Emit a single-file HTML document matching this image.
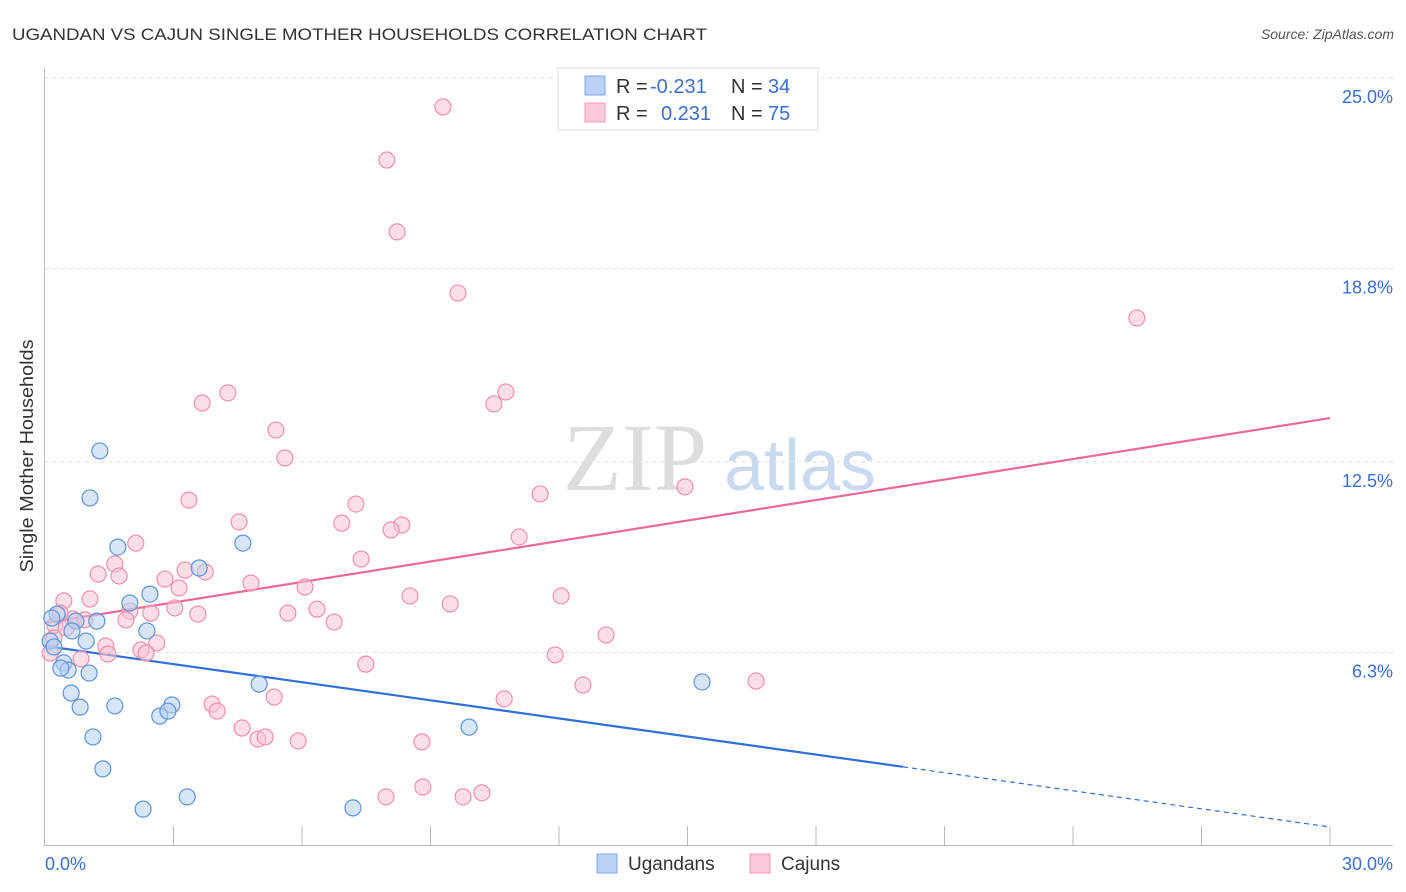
<!DOCTYPE html>
<html><head><meta charset="utf-8"><style>
body{margin:0;background:#fff;font-family:"Liberation Sans",sans-serif;}
svg{display:block}
</style></head><body>
<svg id="chart" width="1406" height="892" xmlns="http://www.w3.org/2000/svg">
<text x="12" y="40" font-size="17" fill="#333" textLength="695" lengthAdjust="spacingAndGlyphs">UGANDAN VS CAJUN SINGLE MOTHER HOUSEHOLDS CORRELATION CHART</text>
<text x="1394" y="39" font-size="14" fill="#555" font-style="italic" text-anchor="end">Source: ZipAtlas.com</text>
<text x="33" y="456" font-size="18" fill="#333" text-anchor="middle" textLength="233" lengthAdjust="spacingAndGlyphs" transform="rotate(-90 33 456)">Single Mother Households</text>
<g><text x="635" y="490" font-size="96" font-family="Liberation Serif,serif" fill="#ddd" text-anchor="middle">ZIP</text><text x="800" y="490" font-size="72" fill="#c9daf0" text-anchor="middle">atlas</text></g>
<g id="grid"></g><g id="axes"></g><g id="lines"></g><g id="pts"></g>
<g>
<rect x="558" y="68" width="260" height="62" fill="#fff" stroke="#ddd"/>
<rect x="585" y="76" width="20" height="19" fill="#b8d1f5" stroke="#7fa8e8"/>
<rect x="585" y="103" width="20" height="19" fill="#fcc9d8" stroke="#f09bb5"/>
<text x="616" y="93" font-size="20" fill="#333">R =</text><text x="650" y="93" font-size="20" fill="#3a6fd0">-0.231</text>
<text x="731" y="93" font-size="20" fill="#333">N =</text><text x="768" y="93" font-size="20" fill="#3a6fd0">34</text>
<text x="616" y="120" font-size="20" fill="#333">R =</text><text x="661" y="120" font-size="20" fill="#3a6fd0">0.231</text>
<text x="731" y="120" font-size="20" fill="#333">N =</text><text x="768" y="120" font-size="20" fill="#3a6fd0">75</text>
</g>
<g>
<rect x="597" y="854" width="20" height="19" fill="#b8d1f5" stroke="#7fa8e8"/>
<text x="628" y="870" font-size="19" fill="#333">Ugandans</text>
<rect x="750" y="854" width="20" height="19" fill="#fcc9d8" stroke="#f09bb5"/>
<text x="781" y="870" font-size="19" fill="#333">Cajuns</text>
</g>
</svg>
<script>
const yTicks=[25.0,18.8,12.5,6.3];
const yTickLabels=["25.0%","18.8%","12.5%","6.3%"];
const xTickCount=[0,3,6,9,12,15,18,21,24,27,30];
const ugX=[1.28,1.05,1.70,4.62,2.45,1.98,3.60,0.28,0.16,1.21,0.72,0.63,2.38,0.96,0.12,0.21,0.44,0.54,1.03,0.37,0.61,0.82,1.63,2.96,2.68,2.87,5.00,1.12,1.35,3.32,2.29,7.19,9.90,15.34];
const ugY=[12.86,11.33,9.73,9.86,8.20,7.91,9.05,7.55,7.42,7.32,7.32,7.00,7.00,6.67,6.67,6.48,5.96,5.73,5.63,5.79,4.98,4.52,4.56,4.59,4.23,4.39,5.27,3.55,2.51,1.60,1.20,1.24,3.87,5.34];
const cjX=[9.29,7.98,8.22,9.64,25.49,10.76,10.48,4.27,3.67,5.39,5.60,3.36,11.56,14.94,4.53,7.26,6.93,8.33,8.08,11.07,2.12,7.38,1.63,1.24,1.73,2.80,3.27,3.74,4.81,6.07,3.13,8.52,12.05,0.44,1.05,1.98,2.47,3.03,3.57,5.67,6.35,9.46,6.75,0.23,0.65,0.93,1.89,0.21,1.42,2.61,2.24,2.36,13.10,0.12,0.84,1.47,11.91,7.49,12.56,16.60,5.35,10.72,3.90,4.02,4.60,4.97,5.14,5.91,8.80,7.96,8.82,9.76,10.20,0.49,0.35];
const cjY=[24.06,22.33,19.99,18.00,17.19,14.78,14.39,14.75,14.42,13.54,12.63,11.26,11.46,11.69,10.55,11.13,10.51,10.45,10.29,10.06,9.86,9.34,9.18,8.85,8.79,8.69,8.98,8.92,8.56,8.43,8.40,8.14,8.14,7.98,8.04,7.65,7.58,7.75,7.55,7.58,7.71,7.88,7.29,7.19,7.39,7.36,7.36,6.77,6.51,6.61,6.38,6.28,6.87,6.28,6.09,6.25,6.22,5.92,5.24,5.37,4.85,4.79,4.62,4.39,3.84,3.48,3.55,3.42,3.39,1.60,1.92,1.60,1.73,7.10,7.58];
const ugFit=[6.51,0.62]; const ugSolidEnd=20.03;
const cjFit=[7.26,13.93];
const NS="http://www.w3.org/2000/svg";
const sx=v=>45+v/30*1285, sy=v=>846-v/6.25*192;
function mk(tag,a,parent){const e=document.createElementNS(NS,tag);for(const k in a)e.setAttribute(k,a[k]);document.getElementById(parent).appendChild(e);return e;}
yTicks.forEach((t,i)=>{
 const g=mk('line',{x1:45,x2:1393,y1:sy(t),y2:sy(t),stroke:'#ddd','stroke-dasharray':'4,4'},'grid');
 
 
 const l=mk('text',{x:1393,y:sy(t)+25,'font-size':18,fill:'#3a6fd0','text-anchor':'end'},'grid');
 l.textContent=yTickLabels[i];
 
 
});
let a=mk('line',{x1:44.5,x2:44.5,y1:68,y2:845.5,stroke:'#bbb'},'axes');


a=mk('line',{x1:44,x2:1393,y1:845.5,y2:845.5,stroke:'#bbb'},'axes');


xTickCount.forEach(t=>{if(t===0)return;const e=mk('line',{x1:sx(t),x2:sx(t),y1:826,y2:845,stroke:'#bbb'},'axes');
 
 });
let t0=mk('text',{x:45,y:870,'font-size':18,fill:'#3a6fd0'},'axes');t0.textContent='0.0%';


t0=mk('text',{x:1393,y:870,'font-size':18,fill:'#3a6fd0','text-anchor':'end'},'axes');t0.textContent='30.0%';


function drawPts(xs,ys,fill,stroke,name){xs.forEach((x,i)=>{const c=mk('circle',{cx:sx(x),cy:sy(ys[i]),r:8,fill:fill,'fill-opacity':0.55,stroke:stroke,'stroke-width':1.2},'pts');
 
 });}
drawPts(cjX,cjY,'#fbc3d3','#ee8fae','cajun-point');
drawPts(ugX,ugY,'#b5cff3','#5f93dd','ugandan-point');
const ugAt=x=>ugFit[0]+(ugFit[1]-ugFit[0])*x/30;
let ln=mk('line',{x1:sx(0),y1:sy(ugAt(0)),x2:sx(ugSolidEnd),y2:sy(ugAt(ugSolidEnd)),stroke:'#2f6fd6','stroke-width':2.2},'lines');


ln=mk('line',{x1:sx(ugSolidEnd),y1:sy(ugAt(ugSolidEnd)),x2:sx(30),y2:sy(ugFit[1]),stroke:'#2f6fd6','stroke-width':1.2,'stroke-dasharray':'5,4'},'lines');


ln=mk('line',{x1:sx(0),y1:sy(cjFit[0]),x2:sx(30),y2:sy(cjFit[1]),stroke:'#e8699a','stroke-width':2.2},'lines');


</script>
</body></html>
